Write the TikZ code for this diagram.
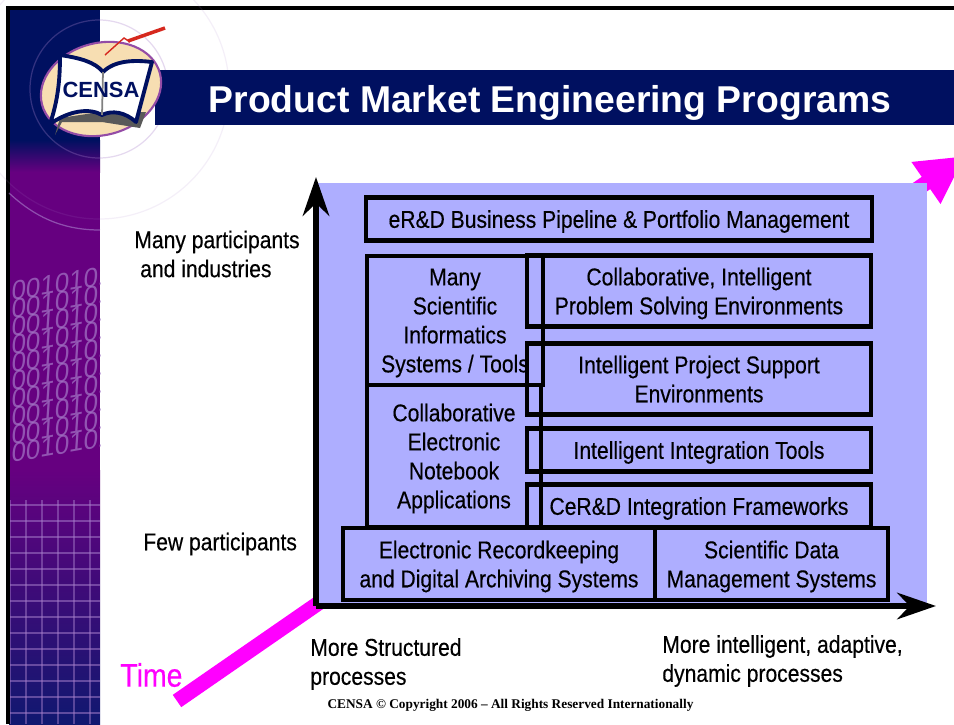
\documentclass[tikz,border=0pt]{standalone}
\usepackage{fontspec}
\setmainfont[FakeStretch=0.87,FakeBold=0.35]{Liberation Sans}
\newfontfamily\titlefont{Liberation Sans}
\newfontfamily\copyfont{Liberation Serif}
\usepackage{xcolor}
\usetikzlibrary{positioning,shapes.geometric,arrows.meta}
\definecolor{censanavy}{RGB}{0,16,96}
\definecolor{censapurple}{RGB}{102,0,128}
\definecolor{stripbottom}{RGB}{16,24,112}
\definecolor{panelblue}{RGB}{174,174,255}
\definecolor{timepink}{RGB}{255,0,255}
\definecolor{logotan}{RGB}{247,222,178}
\definecolor{boltred}{RGB}{214,40,30}
\definecolor{gridlilac}{RGB}{170,130,205}
\begin{document}
\begin{tikzpicture}[x=0.02cm,y=-0.02cm,
    progbox/.style={draw=black,line width=2.4pt,font=\fontsize{13.8}{16.5}\selectfont,align=center,inner sep=0pt,text depth=0pt},
    axislabel/.style={font=\fontsize{13.8}{16.5}\selectfont,align=left,anchor=west,inner sep=0pt},
    axisline/.style={line width=3.4pt,-{Stealth[length=22pt,width=15pt,inset=7pt]}},
    ringline/.style={gridlilac,opacity=0.3,line width=0.7pt}]

    \clip (0,0) rectangle (954,724);
    \fill[white] (0,0) rectangle (954,724);

    % left strip
    \fill[censanavy] (9,9) rectangle (100,140);
    \shade[top color=censanavy,bottom color=censapurple] (9,140) rectangle (100,172);
    \fill[censapurple] (9,172) rectangle (100,470);
    \shade[top color=censapurple,bottom color=stripbottom] (9,470) rectangle (100,724);
    \foreach \gx in {10,26,...,100}
        \draw[gridlilac,opacity=0.45,line width=0.7pt] (\gx,500) -- (\gx,724);
    \foreach \gy in {505,521,...,724}
        \draw[gridlilac,opacity=0.5,line width=0.7pt] (9,\gy) -- (100,\gy);
    \begin{scope}
        \clip (9,250) rectangle (100,480);
        \foreach \by in {284,302,...,460}
            \node[gridlilac,opacity=0.65,inner sep=0pt,rotate=10,xslant=0.25,font=\titlefont\fontsize{15}{15}\selectfont] at (55,\by) {101001010101};
    \end{scope}
    \draw[black,line width=2pt] (8,724) -- (8,8) -- (954,8);

    % faint rings and title bar
    \draw[ringline] (99,89) circle (69);
    \draw[ringline,opacity=0.12] (99,89) circle (130);
    \draw[ringline,opacity=0.6] (9,193) .. controls (40,222) and (70,230) .. (100,230);
    \fill[censanavy] (155,70) rectangle (954,125);
    \node[text=white,inner sep=0pt,font=\titlefont\bfseries\fontsize{21.25}{25}\selectfont] (title) at (550,103) {Product Market Engineering Programs};

    % logo
    \draw[line width=1.2pt,censapurple!70,fill=logotan,rotate around={15:(101,89)}] (101,89) ellipse (61 and 46);
    \draw[boltred,line width=0.8pt] (105,55) -- (124,38) -- (130,42);
    \draw[boltred,line width=2pt] (128,41) -- (165,28);
    \fill[gray!70!black] (55,135) -- (62,122) -- (102,122) -- (140,128) -- (146,112) -- (100,112) -- (60,118) -- cycle;
    \draw[censanavy,line width=2.2pt,fill=white,line join=round] (60,55) .. controls (80,58) and (95,62) .. (103,72) .. controls (115,60) and (135,60) .. (152,62) -- (136,122) .. controls (125,112) and (112,110) .. (102,115) .. controls (90,108) and (70,110) .. (50,124) .. controls (58,100) and (60,80) .. (60,55) -- cycle;
    \draw[gray,line width=1pt] (103,72) -- (102,115);
    \node[censanavy,inner sep=0pt,font=\titlefont\bfseries\fontsize{12.5}{14}\selectfont] (logotext) at (101,90) {CENSA};

    % time axis sits under the panel
    \coordinate (timestart) at (177,701);
    \coordinate (timeend) at (965,156);
    \draw[timepink,line width=8.5pt,-{Triangle[length=27pt,width=27pt]}] (timestart) -- (timeend);

    \fill[panelblue] (316,183) rectangle (927,604);

    \node[progbox,minimum width=288pt,minimum height=24.5pt] (pipeline) at (619,219) {eR\&D Business Pipeline \& Portfolio Management};
    \node[progbox,minimum width=196pt,minimum height=40.5pt] (collab) at (699,291) {Collaborative, Intelligent\\Problem Solving Environments};
    \node[progbox,minimum width=196pt,minimum height=40.5pt] (project) at (699,379) {Intelligent Project Support\\Environments};
    \node[progbox,minimum width=196pt,minimum height=24.5pt] (tools) at (699,450) {Intelligent Integration Tools};
    \node[progbox,minimum width=196pt,minimum height=24.5pt] (frameworks) at (699,506) {CeR\&D Integration Frameworks};
    \node[progbox,minimum width=99pt,minimum height=80.8pt] (electronic) at (454,456) {Collaborative\\Electronic\\Notebook\\Applications};
    \node[progbox,minimum width=100pt,minimum height=73.4pt] (informatics) at (455,320.5) {Many\\Scientific\\Informatics\\Systems / Tools};
    \node[progbox,minimum width=177.5pt,minimum height=41pt] (archive) at (499,564) {Electronic Recordkeeping\\and Digital Archiving Systems};
    \node[progbox,minimum width=132.5pt,minimum height=41pt] (datamgmt) at (771.5,564) {Scientific Data\\Management Systems};

    % axes
    \coordinate (origin) at (316,606);
    \coordinate (ytop) at (316,177);
    \coordinate (xend) at (936,606);
    \draw[axisline] (origin) -- (ytop);
    \draw[axisline] (origin) -- (xend);

    \node[axislabel] (manylabel) at (134,254) {Many participants\\\ and industries};
    \node[axislabel] (fewlabel) at (143,544) {Few participants};
    \node[axislabel] (structlabel) at (310,664) {More Structured\\processes};
    \node[axislabel] (adaptlabel) at (662,661) {More intelligent, adaptive,\\dynamic processes};
    \node[text=timepink,inner sep=0pt,anchor=west,font=\fontsize{18.6}{20}\selectfont] (timelabel) at (120,675) {Time};
    \node[inner sep=0pt,font=\copyfont\bfseries\fontsize{7.58}{9}\selectfont] (copyright) at (510.5,705) {CENSA © Copyright 2006 – All Rights Reserved Internationally};

\end{tikzpicture}
\end{document}
